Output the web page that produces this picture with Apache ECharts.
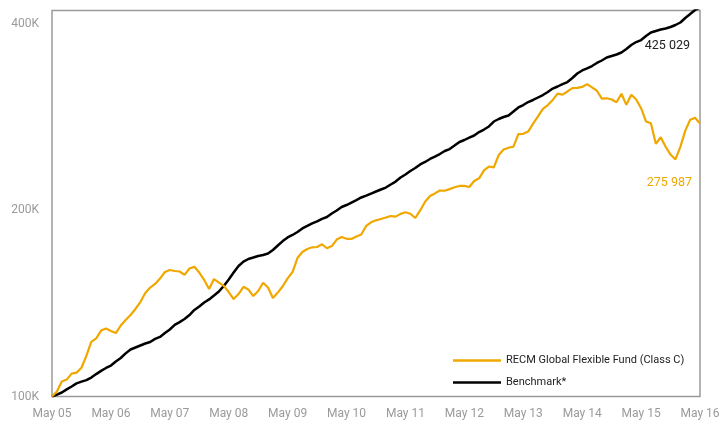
<!DOCTYPE html>
<html><head><meta charset="utf-8">
<script src="https://cdn.jsdelivr.net/npm/echarts@6/dist/echarts.min.js"></script>
<style>html,body{margin:0;padding:0;background:#fff}#c{width:727px;height:421px}</style>
</head><body><div id="c"></div>
<script>
const monthNames = ['May','Jun','Jul','Aug','Sep','Oct','Nov','Dec','Jan','Feb','Mar','Apr'];
const startYear = 2005;
const yTickLabels = ['100K','200K','400K'];
const fundName = 'RECM Global Flexible Fund (Class C)';
const benchName = 'Benchmark*';
// values in thousands (growth of 100K), monthly from May 05
const fund = [100.0,101.9,105.7,106.5,108.9,109.3,111.3,116.3,122.5,124.1,
127.8,128.8,127.6,126.6,130.2,132.9,135.4,138.5,142.1,147.0,
150.0,152.0,155.1,158.9,160.1,159.5,159.2,157.2,161.0,162.0,
158.6,154.3,149.2,154.8,152.8,150.9,147.5,143.7,146.4,150.4,
148.9,145.3,148.1,152.7,150.0,144.3,147.2,150.7,155.2,158.9,
167.4,171.2,173.1,174.2,174.4,176.2,173.6,175.0,179.3,181.0,
179.8,179.7,181.4,182.7,188.6,191.2,192.6,193.6,194.6,195.7,
195.3,197.3,198.5,197.4,194.3,199.8,206.4,210.9,212.9,215.2,
215.0,216.3,217.8,218.9,219.0,218.0,223.0,225.2,231.9,235.3,
234.6,245.6,250.7,252.4,253.3,265.4,265.7,268.0,276.0,283.6,
291.6,295.8,301.5,308.6,307.5,311.1,315.1,315.2,316.4,319.7,
315.8,311.9,303.0,303.3,301.9,298.8,308.4,296.0,307.3,301.9,
292.3,278.3,276.3,256.0,262.4,253.3,246.0,241.6,253.2,268.9,
280.0,282.1,275.987];
const bench = [100.0,100.7,101.5,102.7,103.8,105.0,105.7,106.3,107.3,108.7,
110.0,111.2,112.2,113.9,115.4,117.4,119.1,120.0,120.9,121.8,
122.5,123.9,124.8,126.6,128.3,130.5,131.9,133.4,135.4,138.0,
139.8,141.9,143.5,145.6,147.8,150.9,154.5,158.6,162.5,165.2,
166.8,167.7,168.7,169.3,170.2,172.5,175.4,178.3,180.7,182.4,
184.4,186.9,188.6,190.4,191.8,193.6,195.0,197.6,199.8,202.4,
203.9,205.8,207.7,209.7,211.2,212.8,214.4,216.0,217.6,220.1,
222.5,225.9,228.4,231.4,234.0,237.1,239.3,242.0,244.2,246.5,
249.3,251.1,254.4,257.8,259.7,262.1,264.1,267.5,270.0,273.1,
278.2,280.8,282.9,284.5,288.7,293.1,295.8,299.1,301.4,304.2,
307.0,310.5,314.5,316.9,319.8,322.2,327.1,332.6,336.4,338.9,
342.0,345.9,349.1,353.0,355.0,357.0,359.6,364.3,369.8,373.9,
376.7,382.4,387.4,389.6,391.8,393.2,395.4,398.4,402.1,408.9,
415.0,421.3,425.029];
const fundEndLabel = '275 987';
const benchEndLabel = '425 029';

const categories = fund.map((_, i) => {
  const y = startYear + Math.floor((i + 4) / 12);
  return monthNames[i % 12] + ' ' + String(y % 100).padStart(2, '0');
});
const toLog = v => Math.log2(v / 100);
const FONT = "Roboto, 'Liberation Sans', sans-serif";
const YELLOW = '#F0A800';

const chart = echarts.init(document.getElementById('c'), null, {renderer: 'canvas'});
chart.setOption({
  animation: false,
  backgroundColor: '#fff',
  textStyle: {fontFamily: FONT},
  grid: {left: 52, right: 27, top: 10.5, bottom: 24.5, show: true, borderColor: '#9a9a9a', borderWidth: 1.5, containLabel: false},
  xAxis: {
    type: 'category', data: categories, boundaryGap: false,
    axisLine: {show: false}, axisTick: {show: false}, splitLine: {show: false},
    axisLabel: {interval: 11, color: '#9a9a9a', fontSize: 12, fontFamily: FONT, margin: 11}
  },
  yAxis: {
    type: 'value', min: 0, max: 2.072, interval: 1,
    axisLine: {show: false}, axisTick: {show: false}, splitLine: {show: false},
    axisLabel: {color: '#9a9a9a', fontSize: 12, fontFamily: FONT, margin: 13, showMaxLabel: false,
      formatter: v => (Math.abs(v - Math.round(v)) < 1e-6 ? (yTickLabels[Math.round(v)] || '') : '')}
  },
  legend: {
    orient: 'vertical', left: 448, top: 348, itemGap: 7,
    icon: 'rect', itemWidth: 48, itemHeight: 2.5,
    textStyle: {color: '#222', fontSize: 11, fontFamily: FONT, lineHeight: 15, padding: [0,0,0,0]},
    data: [fundName, benchName]
  },
  series: [
    {name: fundName, type: 'line', data: fund.map(toLog), symbol: 'none', showSymbol: false,
     lineStyle: {color: YELLOW, width: 2.2}, itemStyle: {color: YELLOW}, z: 3},
    {name: benchName, type: 'line', data: bench.map(toLog), symbol: 'none', showSymbol: false,
     lineStyle: {color: '#000', width: 2.5}, itemStyle: {color: '#000'}, z: 2}
  ],
  graphic: [
    {type: 'text', x: 690, y: 46, style: {text: benchEndLabel, fill: '#222', fontSize: 12.5, fontFamily: FONT, align: 'right', verticalAlign: 'middle'}},
    {type: 'text', x: 692, y: 183, style: {text: fundEndLabel, fill: YELLOW, fontSize: 12.5, fontFamily: FONT, align: 'right', verticalAlign: 'middle'}}
  ]
});
</script></body></html>
